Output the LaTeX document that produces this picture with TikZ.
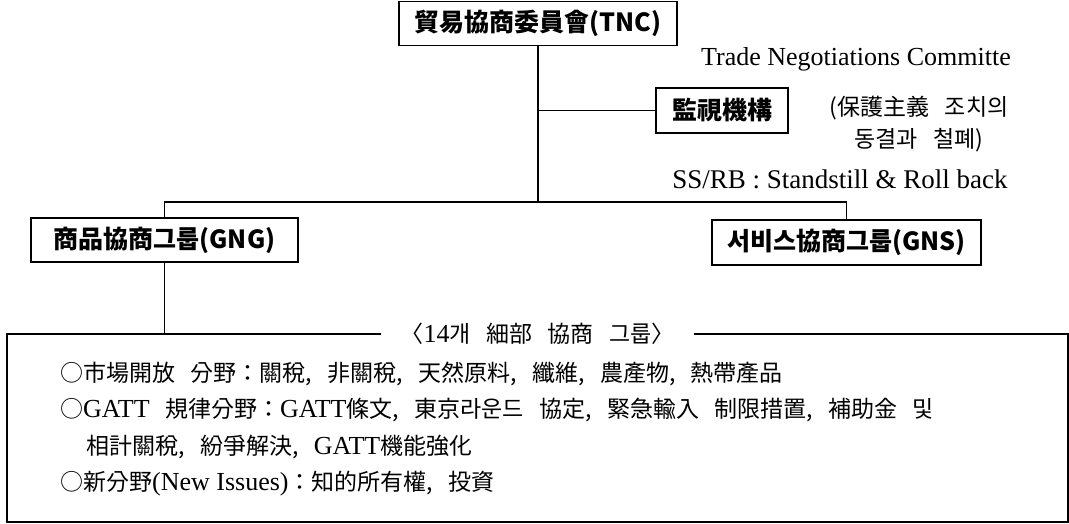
\documentclass[tikz,border=0pt]{standalone}
\usepackage{fontspec}
\setmainfont{Liberation Serif}
\newfontfamily\krfont{Noto Sans CJK KR}[WordSpace=3]
\usetikzlibrary{positioning,calc}
\newcommand\en[1]{{\rmfamily\fontsize{26}{32}\selectfont #1}}

\begin{document}
\begin{tikzpicture}[x=1pt, y=-1pt,
    box/.style={draw, line width=1.3pt, inner sep=0pt, minimum height=44pt, font=\krfont\fontsize{25}{28}\selectfont\bfseries},
    note/.style={inner sep=0pt, font=\fontsize{26}{30}\selectfont},
    hangul/.style={inner sep=0pt, font=\krfont\fontsize{23}{32}\selectfont},
    link/.style={line width=1.3pt}]
  \useasboundingbox (0,0) rectangle (1069,524);

  \node[box, minimum width=278pt] (tnc) at (538,23.5) {貿易協商委員會(TNC)};
  \node[note, anchor=base] (tncname) at (856,66) {Trade Negotiations Committe};
  \node[box, minimum width=132pt, minimum height=45pt] (monitor) at (722,110.5) {監視機構};
  \node[hangul, align=center] (freeze) at (919,124) {(保護主義 조치의\\동결과 철폐)};
  \node[note, anchor=base, font=\fontsize{27}{30}\selectfont] (ssrb) at (840,189) {SS/RB : Standstill \& Roll back};
  \node[box, minimum width=267pt] (gng) at (164.5,240) {商品協商그룹(GNG)};
  \node[box, minimum width=269pt, minimum height=45pt] (gns) at (846.5,242.5) {서비스協商그룹(GNS)};

  % 14 sub-groups
  \node[draw, link, minimum width=1061pt, minimum height=188pt] (groups) at (537.5,428) {};
  \node[hangul, fill=white, inner xsep=20pt, inner ysep=2pt] (title) at (groups.north) {〈\en{14}개 細部 協商 그룹〉};
  \node[hangul, anchor=base west] (market) at (60,381) {○市場開放 分野：關稅, 非關稅, 天然原料, 纖維, 農產物, 熱帶產品};
  \node[hangul, anchor=base west] (rules) at (60,417) {○\en{GATT} 規律分野：\en{GATT}條文, 東京라운드 協定, 緊急輸入 制限措置, 補助金 및};
  \node[hangul, anchor=base west] (rules2) at (86,454) {相計關稅, 紛爭解決, \en{GATT}機能強化};
  \node[hangul, anchor=base west] (newissues) at (60,490) {○新分野\en{(New Issues)}：知的所有權, 投資};

  \coordinate (hub) at (tnc.south |- 0,202);
  \draw[link] (tnc.south) -- (hub);
  \draw[link] (tnc.south |- monitor.west) -- (monitor.west);
  \draw[link] (gng.north) |- (hub) -| (gns.north);
  \draw[link] (gng.south) -- (gng.south |- groups.north);
\end{tikzpicture}
\end{document}
